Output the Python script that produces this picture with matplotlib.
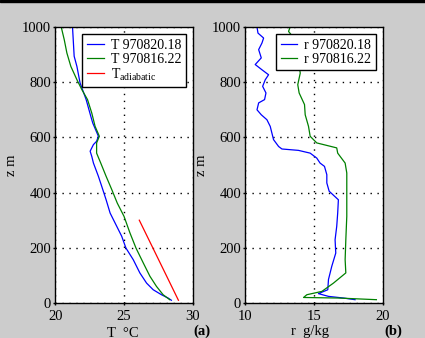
#!/usr/bin/env python3
"""Temperature and mixing ratio profiles, two soundings"""
import matplotlib
matplotlib.use('Agg')
import matplotlib.pyplot as plt

# ---- temperature profiles (z in m, T in degC) ----
z_t1 = [1000, 894, 857, 797, 737, 676, 652, 604, 586, 574, 550, 531, 507, 459,
        423, 374, 326, 278, 242, 199, 157, 109, 72, 48, 30, 18, 10]
T_t1 = [21.25, 21.37, 21.57, 21.8, 22.24, 22.58, 22.72, 23.13, 23.0, 22.77, 22.53,
        22.65, 22.77, 23.13, 23.37, 23.69, 23.98, 24.46, 24.82, 25.13, 25.66, 26.14,
        26.63, 27.11, 27.71, 28.19, 28.43]

z_t2 = [1000, 954, 906, 857, 809, 773, 737, 688, 640, 604, 580, 543, 507, 459,
        411, 362, 314, 254, 199, 145, 97, 60, 30, 12]
T_t2 = [20.43, 20.65, 20.84, 21.13, 21.57, 21.93, 22.34, 22.65, 22.89, 23.2, 23.0,
        23.0, 23.3, 23.69, 24.1, 24.5, 24.99, 25.42, 25.86, 26.39, 26.87, 27.35,
        27.83, 28.31]

z_ad = [10, 100, 200, 300]
T_ad = [28.94, 28.06, 27.08, 26.1]

# ---- mixing ratio profiles (g/kg) ----
z_r1 = [1000, 978, 960, 942, 918, 888, 864, 845, 827, 809, 785, 761, 737, 725,
        700, 682, 664, 640, 616, 592, 567, 558, 553, 543, 525, 507, 495, 465, 435,
        405, 374, 326, 278, 229, 181, 133, 85, 48, 34, 24, 18, 12]
r_r1 = [10.85, 10.92, 11.33, 11.21, 10.97, 11.16, 10.72, 11.21, 11.69, 11.45,
        11.26, 11.5, 11.4, 10.97, 10.85, 11.16, 11.57, 11.81, 11.93, 12.05, 12.42,
        12.66, 13.86, 14.71, 15.19, 15.43, 15.75, 15.92, 15.92, 16.09, 16.76, 16.71,
        16.64, 16.52, 16.57, 16.28, 16.04, 15.99, 15.31, 16.04, 17.13, 17.97]

z_r2 = [1000, 984, 954, 894, 833, 791, 761, 719, 682, 640, 604, 580, 562, 543,
        507, 471, 399, 314, 229, 157, 109, 72, 42, 30, 20, 18, 12]
r_r2 = [13.26, 13.14, 13.62, 13.81, 13.99, 13.81, 13.91, 14.3, 14.35, 14.59,
        14.71, 15.19, 16.64, 16.71, 17.25, 17.37, 17.37, 17.37, 17.3, 17.25, 17.3,
        16.4, 15.56, 14.47, 14.23, 16.76, 19.52]

plt.rcParams.update({
    'font.family': 'Liberation Serif',
    'font.size': 10.5,
    'mathtext.fontset': 'custom',
    'mathtext.rm': 'Liberation Serif',
})

fig = plt.figure(figsize=(4.25, 3.38), dpi=100, facecolor='#cccccc')
# thin black strip along the top edge
fig.patches.append(plt.Rectangle((0, 0.994), 1, 0.006, transform=fig.transFigure,
                                 color='black', zorder=0))

W, H = 425, 338
ax1 = fig.add_axes([55.3 / W, 1 - 303 / H, 137.7 / W, 276 / H])
ax2 = fig.add_axes([245.3 / W, 1 - 303 / H, 137.7 / W, 276 / H])

for ax in (ax1, ax2):
    ax.set_facecolor('white')
    ax.set_ylim(0, 1000)
    ax.set_yticks([0, 200, 400, 600, 800, 1000])
    ax.grid(True, color='black', linestyle=(0, (1, 4)), linewidth=1.0)
    ax.tick_params(direction='out', length=1.5, width=1.0, pad=1.5)
    ax.tick_params(axis='x', pad=3.5)
    for s in ax.spines.values():
        s.set_linewidth(1.0)
    ax.set_ylabel('z m')
    ax.yaxis.set_label_coords(-0.27, 0.5)

leg_kw = dict(loc='upper right', fancybox=False, edgecolor='black', framealpha=1,
              fontsize=10, handlelength=1.2, handletextpad=0.5, labelspacing=0.05,
              borderaxespad=0.5, borderpad=0.35)

ax1.plot(T_t1, z_t1, color='blue', linewidth=0.9, label='T 970820.18')
ax1.plot(T_t2, z_t2, color='green', linewidth=0.9, label='T 970816.22')
ax1.plot(T_ad, z_ad, color='red', linewidth=0.9, label=r'T$_{\mathrm{adiabatic}}$')
ax1.set_xlim(20, 30)
ax1.set_xticks([20, 25, 30])
ax1.set_xlabel('T  °C')
ax1.xaxis.set_label_coords(0.49, -0.088)
ax1.legend(**leg_kw).get_frame().set_linewidth(1.0)
fig.text(202 / W, 1 - 331 / H, '(a)', ha='center', va='center', fontweight='bold')

ax2.plot(r_r1, z_r1, color='blue', linewidth=0.9, label='r 970820.18')
ax2.plot(r_r2, z_r2, color='green', linewidth=0.9, label='r 970816.22')
ax2.set_xlim(10, 20)
ax2.set_xticks([10, 15, 20])
ax2.set_xlabel('r  g/kg')
ax2.xaxis.set_label_coords(0.47, -0.08)
ax2.legend(**leg_kw).get_frame().set_linewidth(1.0)
fig.text(393 / W, 1 - 331 / H, '(b)', ha='center', va='center', fontweight='bold')

plt.savefig('out.png', dpi=100, facecolor=fig.get_facecolor())
plt.close()
